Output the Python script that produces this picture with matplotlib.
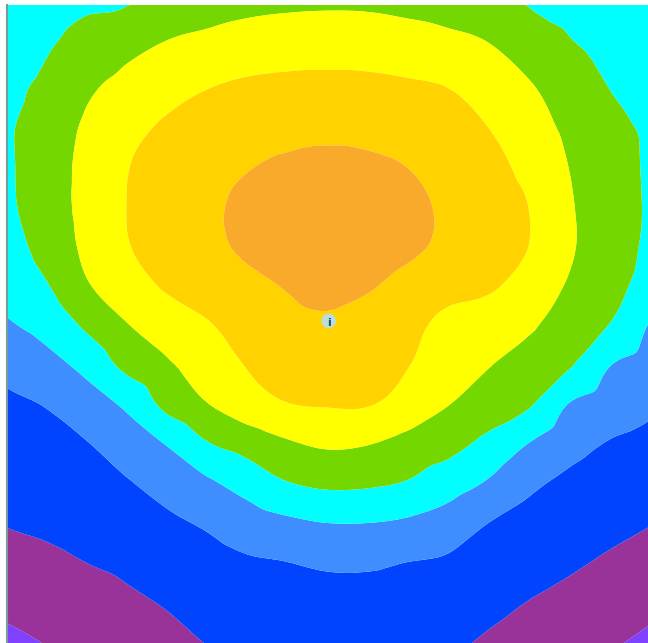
import numpy as np
import matplotlib.pyplot as plt
import matplotlib.tri as mtri

# signal strength (dBm) on a 1 m grid, row 0 = top
x_m = np.arange(17)
y_m = np.arange(17)
rssi = np.array([
    [-60.9, -60.6, -60.35, -60.1, -58.4, -57.1, -56.2, -55.7, -55.5, -55.6, -56.2, -56.9, -58.1, -60.1, -60.4, -60.8, -61.0],
    [-60.75, -60.2, -58.9, -56.5, -54.6, -53.6, -52.6, -52.2, -52.0, -52.2, -52.7, -53.6, -54.8, -57.4, -59.7, -60.4, -60.8],
    [-60.5, -59.4, -56.0, -53.5, -51.8, -50.3, -49.4, -49.0, -48.9, -49.0, -49.5, -50.2, -52.4, -54.6, -57.5, -60.05, -60.7],
    [-60.5, -58.0, -54.3, -51.5, -49.5, -48.3, -47.0, -46.6, -46.2, -46.5, -47.1, -48.2, -50.1, -52.9, -56.0, -59.0, -60.5],
    [-60.6, -57.6, -53.5, -50.2, -48.3, -47.0, -45.35, -44.3, -43.9, -44.2, -45.15, -47.0, -48.8, -51.2, -55.0, -58.1, -60.45],
    [-60.75, -57.6, -53.4, -49.95, -48.0, -46.05, -43.8, -41.8, -41.3, -41.7, -43.7, -45.9, -48.0, -50.0, -54.4, -57.7, -60.4],
    [-61.5, -58.4, -53.8, -50.2, -48.1, -46.2, -44.0, -42.3, -41.1, -42.0, -43.8, -46.0, -48.0, -49.9, -54.2, -57.7, -60.65],
    [-62.8, -60.15, -55.3, -52.1, -49.3, -47.7, -46.2, -44.6, -43.5, -44.4, -46.55, -48.4, -49.25, -51.7, -55.3, -58.4, -61.5],
    [-65.5, -63.1, -59.0, -55.1, -52.7, -50.3, -48.1, -46.25, -45.7, -46.8, -48.7, -51.1, -52.4, -54.2, -57.1, -59.9, -65.0],
    [-68.6, -66.5, -63.4, -58.5, -55.5, -52.9, -49.7, -48.0, -47.65, -48.1, -49.8, -52.5, -54.7, -56.8, -59.3, -64.6, -66.9],
    [-70.7, -69.7, -67.2, -64.05, -58.5, -55.1, -52.0, -50.1, -49.65, -49.7, -51.8, -54.8, -57.1, -59.35, -65.0, -67.25, -69.05],
    [-72.0, -71.3, -70.15, -67.6, -64.7, -60.3, -58.0, -55.6, -54.3, -54.8, -56.6, -58.3, -61.3, -65.0, -68.2, -70.2, -71.2],
    [-73.4, -72.65, -71.6, -70.35, -68.2, -65.8, -63.1, -60.25, -59.1, -59.35, -60.4, -62.8, -65.5, -69.0, -70.9, -72.0, -73.0],
    [-74.8, -74.2, -73.3, -72.2, -70.9, -69.4, -67.4, -66.0, -65.05, -65.05, -65.75, -67.2, -70.0, -71.4, -72.6, -73.75, -74.8],
    [-76.9, -76.0, -75.0, -74.1, -72.8, -71.7, -70.6, -70.1, -69.4, -69.4, -70.1, -70.7, -71.95, -73.2, -74.35, -75.6, -76.9],
    [-79.1, -78.1, -77.0, -75.75, -74.7, -73.3, -72.6, -71.8, -71.5, -71.5, -71.9, -72.7, -73.9, -75.1, -76.25, -77.7, -79.0],
    [-80.85, -79.85, -78.3, -77.1, -76.1, -74.9, -73.7, -73.0, -72.7, -72.7, -73.3, -74.25, -75.5, -76.6, -77.85, -79.5, -80.7],
])

levels = [-90, -80, -75, -70, -65, -60, -55, -50, -45, -30]
band_colors = ["#8040FF", "#993399", "#0044FF", "#3F8EFF", "#00FFFF",
               "#74D800", "#FFFF00", "#FFD200", "#FAAA2A"]

# access point position (m)
ap_x, ap_y = 8.03, 7.92

fig = plt.figure(figsize=(6.48, 6.43), dpi=100)
ax = fig.add_axes([7 / 648, 0, 641 / 648, 638 / 643])

# smooth the band edges with a cubic refinement of the measured grid
X, Y = np.meshgrid(x_m, y_m)
tri = mtri.Triangulation(X.ravel(), Y.ravel())
interp = mtri.CubicTriInterpolator(tri, rssi.ravel(), kind="geom")
refiner = mtri.UniformTriRefiner(tri)
tri_f, z_f = refiner.refine_field(rssi.ravel(), triinterpolator=interp, subdiv=3)
ax.tricontourf(tri_f, z_f, levels=levels, colors=band_colors, antialiased=True)

ax.scatter([ap_x], [ap_y], s=110, color="#b8dede", edgecolors="none", zorder=3)
ax.text(ap_x, ap_y + 0.05, "i", ha="center", va="center", fontsize=8,
        fontweight="bold", color="#2e4466", zorder=4)

ax.set_xlim(0, 16)
ax.set_ylim(16, 0)
ax.set_xticks([])
ax.set_yticks([])
for side in ["top", "right", "bottom"]:
    ax.spines[side].set_visible(False)
ax.spines["left"].set_color("#7a9a9a")
ax.spines["left"].set_linewidth(1.5)

fig.savefig("out.png", dpi=100)
